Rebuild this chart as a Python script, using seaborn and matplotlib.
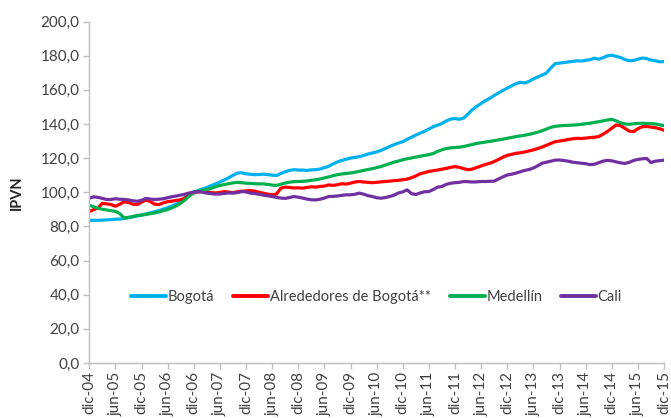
import pandas as pd
import matplotlib.pyplot as plt
import matplotlib.ticker as mticker
import seaborn as sns

# monthly IPVN values, dic-04 .. dic-15 (133 months)
bogota = [83.5,
          83.6, 83.5, 83.7, 83.8, 84.0, 84.2, 84.3, 84.6, 85.1, 85.6, 86.2, 86.8,
          87.3, 87.9, 88.6, 89.3, 90.1, 91.0, 91.9, 93.1, 94.8, 96.9, 98.8, 100.2,
          101.0, 101.9, 102.8, 103.9, 104.9, 106.0, 107.2, 108.5, 109.9, 111.2, 111.4, 110.8,
          110.5, 110.3, 110.4, 110.6, 110.3, 110.0, 109.8, 111.0, 112.0, 112.8, 113.2, 113.0,
          113.0, 112.8, 113.1, 113.2, 113.6, 114.4, 115.2, 116.6, 117.8, 118.6, 119.3, 120.0,
          120.4, 120.8, 121.5, 122.4, 123.0, 123.6, 124.5, 125.6, 126.8, 127.9, 128.8, 129.6,
          131.0, 132.2, 133.5, 134.6, 135.7, 137.0, 138.4, 139.3, 140.2, 141.8, 142.8, 143.2,
          142.7, 143.5, 145.8, 148.4, 150.3, 152.0, 153.7, 155.0, 156.7, 158.2, 159.6, 161.0,
          162.3, 163.6, 164.4, 164.0, 164.9, 166.4, 167.5, 168.6, 169.8, 172.8, 175.3, 175.6,
          176.0, 176.3, 176.6, 177.0, 176.8, 177.3, 177.6, 178.5, 177.9, 178.8, 179.9, 180.3,
          179.6, 178.9, 177.8, 177.0, 177.2, 177.9, 178.6, 178.3, 177.4, 177.0, 176.4, 176.5]

alrededores = [88.7,
               89.8, 90.8, 93.5, 93.2, 92.8, 91.8, 93.0, 94.4, 94.0, 93.0, 92.8, 94.2,
               95.4, 94.6, 93.0, 92.8, 93.8, 94.5, 94.8, 95.2, 95.6, 96.6, 98.2, 99.6,
               100.2, 100.6, 100.3, 99.8, 99.6, 99.9, 100.4, 100.1, 99.7, 100.3, 100.6, 100.8,
               101.0, 100.6, 100.0, 99.4, 98.9, 98.6, 98.9, 102.4, 103.0, 102.8, 102.5, 102.6,
               102.4, 102.8, 103.2, 103.0, 103.4, 103.6, 104.3, 104.0, 104.4, 105.0, 104.8, 105.3,
               106.0, 106.3, 106.0, 105.8, 105.6, 105.8, 106.1, 106.3, 106.5, 106.8, 107.0, 107.3,
               107.7, 108.5, 109.6, 110.8, 111.5, 112.2, 112.6, 113.0, 113.5, 114.0, 114.6, 115.0,
               114.6, 113.8, 113.2, 113.6, 114.5, 115.4, 116.3, 117.0, 118.0, 119.2, 120.5, 121.6,
               122.2, 122.8, 123.1, 123.6, 124.2, 124.8, 125.6, 126.5, 127.5, 128.6, 129.6, 130.0,
               130.4, 130.9, 131.3, 131.6, 131.5, 131.7, 132.0, 132.2, 132.6, 134.0, 135.6, 137.5,
               139.4, 139.0, 137.5, 135.8, 135.5, 137.2, 138.4, 138.5, 138.2, 137.8, 137.2, 136.3]

medellin = [92.4,
            91.5, 90.7, 90.0, 89.6, 89.2, 88.8, 87.5, 84.9, 85.3, 85.8, 86.3, 86.6,
            87.0, 87.4, 87.9, 88.5, 89.2, 89.9, 90.9, 92.0, 93.6, 95.6, 97.8, 99.9,
            100.6, 101.2, 101.6, 102.3, 103.2, 104.0, 104.5, 105.0, 105.5, 105.8, 105.6, 105.3,
            105.2, 105.0, 104.9, 104.9, 104.6, 104.2, 104.0, 104.7, 105.4, 105.9, 106.2, 106.3,
            106.4, 106.6, 107.0, 107.3, 107.8, 108.4, 109.0, 109.7, 110.3, 110.7, 111.0, 111.3,
            111.7, 112.2, 112.8, 113.3, 113.8, 114.4, 115.1, 115.9, 116.8, 117.6, 118.3, 119.0,
            119.6, 120.1, 120.6, 121.1, 121.6, 122.0, 122.7, 123.9, 124.9, 125.6, 126.0, 126.2,
            126.4, 126.8, 127.4, 128.0, 128.6, 129.0, 129.4, 129.8, 130.2, 130.7, 131.1, 131.6,
            132.1, 132.6, 133.0, 133.4, 133.9, 134.5, 135.2, 136.0, 137.0, 138.0, 138.6, 138.9,
            139.1, 139.2, 139.3, 139.5, 139.8, 140.1, 140.4, 140.9, 141.3, 141.8, 142.3, 142.7,
            141.8, 140.7, 140.0, 139.8, 140.1, 140.3, 140.4, 140.3, 140.2, 140.0, 139.5, 139.0]

cali = [96.5,
        97.3, 97.0, 96.4, 95.7, 95.8, 96.2, 95.9, 95.8, 95.5, 95.0, 94.7, 95.3,
        96.4, 96.0, 95.8, 95.9, 96.2, 96.8, 97.4, 97.8, 98.3, 98.9, 99.6, 100.1,
        100.4, 100.0, 99.5, 99.2, 98.9, 99.0, 99.3, 99.6, 99.5, 99.8, 100.4, 100.2,
        99.5, 99.3, 98.8, 98.3, 97.9, 97.5, 97.0, 96.6, 96.4, 96.9, 97.5, 97.1,
        96.6, 96.0, 95.6, 95.5, 95.9, 96.6, 97.5, 97.6, 97.8, 98.2, 98.5, 98.5,
        98.8, 99.5, 98.9, 98.0, 97.5, 96.8, 96.5, 96.9, 97.5, 98.3, 99.6, 100.2,
        101.4, 99.2, 98.7, 99.6, 100.3, 100.4, 101.6, 103.0, 103.4, 104.6, 105.3, 105.6,
        105.8, 106.3, 106.2, 106.0, 106.1, 106.3, 106.3, 106.4, 106.5, 107.8, 109.0, 110.1,
        110.6, 111.2, 112.0, 112.8, 113.3, 114.2, 115.5, 117.0, 117.6, 118.2, 118.8, 118.9,
        118.6, 118.2, 117.6, 117.3, 117.0, 116.7, 116.2, 116.4, 117.3, 118.2, 118.7, 118.4,
        117.8, 117.2, 116.9, 117.5, 118.6, 119.2, 119.6, 119.8, 117.4, 118.2, 118.5, 118.8]

tick_labels = ["dic-04", "jun-05", "dic-05", "jun-06", "dic-06", "jun-07", "dic-07",
               "jun-08", "dic-08", "jun-09", "dic-09", "jun-10", "dic-10", "jun-11",
               "dic-11", "jun-12", "dic-12", "jun-13", "dic-13", "jun-14", "dic-14",
               "jun-15", "dic-15"]

series = {"Bogotá": bogota, "Alrededores de Bogotá**": alrededores,
          "Medellín": medellin, "Cali": cali}
colors = ["#00B0F0", "#FF0000", "#00B050", "#7030A0"]

rows = []
for name, vals in series.items():
    for i, v in enumerate(vals):
        rows.append({"mes": i, "IPVN": v, "ciudad": name})
df = pd.DataFrame(rows)

sns.set_style("white")
plt.rcParams['font.family'] = ['Lato', 'DejaVu Sans']

fig = plt.figure(figsize=(6.71, 4.18), dpi=100)
ax = fig.add_axes([89.3 / 671, 1 - 363 / 418, (664 - 89.3) / 671, (363 - 21.5) / 418])

sns.lineplot(data=df, x="mes", y="IPVN", hue="ciudad", palette=colors,
             linewidth=2.3, ax=ax)

ax.set_xlim(0, 132)
ax.set_ylim(0, 200)
ax.set_yticks(range(0, 201, 20))
ax.yaxis.set_major_formatter(mticker.FuncFormatter(lambda v, p: f"{v:.1f}".replace(".", ",")))
ax.set_xticks(range(0, 133, 6))
ax.set_xticklabels(tick_labels, rotation=90)

for s in ["top", "right"]:
    ax.spines[s].set_visible(False)
for s in ["left", "bottom"]:
    ax.spines[s].set_color("#BFBFBF")
    ax.spines[s].set_linewidth(1)
ax.tick_params(axis="both", which="major", length=4, width=1, color="#BFBFBF",
               labelsize=11, labelcolor="#404040", direction="out", pad=2)
ax.tick_params(axis="y", left=True, pad=3)
ax.tick_params(axis="x", bottom=True)

ax.set_xlabel("")
ax.set_ylabel("IPVN", fontsize=10.5, fontweight="bold", labelpad=12)

ax.legend(loc="center", bbox_to_anchor=(0.5, 0.193), ncol=4, frameon=False,
          fontsize=10.5, handlelength=2.4, handletextpad=0.1, columnspacing=1.3,
          labelcolor="#404040")
for line in ax.get_legend().get_lines():
    line.set_linewidth(2.8)

fig.savefig("out.png", dpi=100)
